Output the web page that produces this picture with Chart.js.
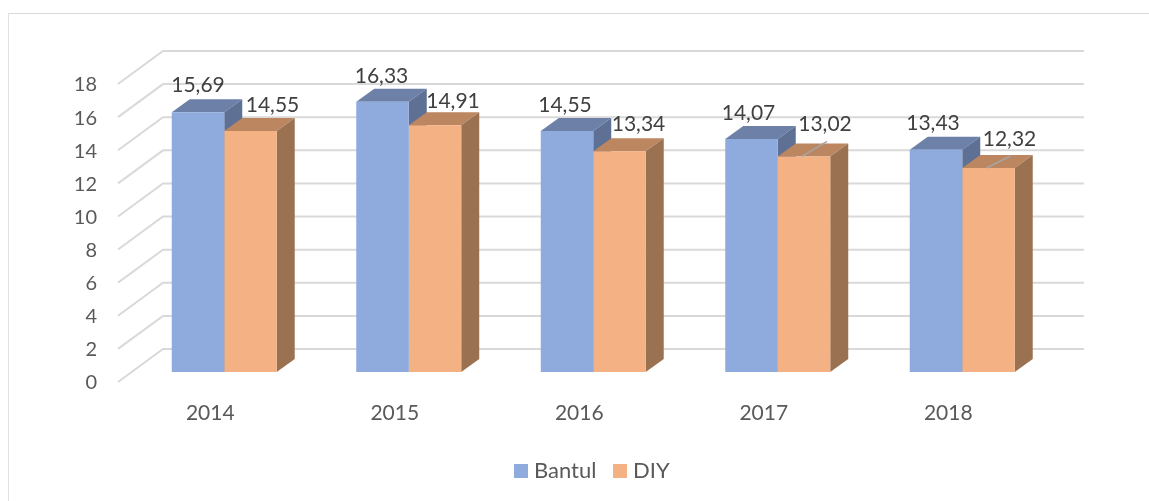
<!DOCTYPE html>
<html>
<head>
<meta charset="utf-8">
<style>
  html, body { margin: 0; background: #fff; overflow: hidden; }
  #frame { position: absolute; left: 8px; top: 13px; right: 0; bottom: 0; border-top: 1px solid #d9d9d9; border-left: 1px solid #e2e2e2; }
  canvas { position: absolute; left: 0; top: 0; }
</style>
<script src="https://cdn.jsdelivr.net/npm/chart.js@4"></script>
</head>
<body>
<div id="frame"></div>
<canvas id="myChart" width="1149" height="501"></canvas>
<script>
var years = ["2014", "2015", "2016", "2017", "2018"];
var bantul = [15.69, 16.33, 14.55, 14.07, 13.43];
var diy = [14.55, 14.91, 13.34, 13.02, 12.32];

// hand placed like in the original, [dx, dy] from the top middle of the bar
var bantulLabelShift = [[0, -27], [-1, -25], [-2, -26], [-3, -26], [-3, -26]];
var diyLabelShift = [[22, -26], [18, -24], [19, -27], [21, -32], [21, -29]];
// only the last two orange bars have a leader line
var diyLeaders = [null, null, null, [23, -15], [22, -12]];

var gridColor = "#d9d9d9";
var depthX = 18;
var depthY = -13;

function face(ctx, points, color) {
  ctx.fillStyle = color;
  ctx.beginPath();
  ctx.moveTo(points[0][0], points[0][1]);
  for (var i = 1; i < points.length; i++) {
    ctx.lineTo(points[i][0], points[i][1]);
  }
  ctx.closePath();
  ctx.fill();
}

var walls = {
  id: "walls",
  beforeDatasetsDraw: function (chart) {
    var ctx = chart.ctx;
    var y = chart.scales.y;
    ctx.save();
    ctx.strokeStyle = gridColor;
    ctx.lineWidth = 2;
    y.ticks.forEach(function (t) {
      var py = y.getPixelForValue(t.value);
      ctx.beginPath();
      ctx.moveTo(118, py + 10);
      ctx.lineTo(163, py - 23);
      ctx.lineTo(1084, py - 23);
      ctx.stroke();
    });

    var tops = ["#6d80a8", "#bb8660"];
    var sides = ["#5e7093", "#9b7251"];
    chart.data.datasets.forEach(function (ds, d) {
      chart.getDatasetMeta(d).data.forEach(function (bar) {
        var left = bar.x - bar.width / 2;
        var right = bar.x + bar.width / 2;
        face(ctx, [[left, bar.y], [left + depthX, bar.y + depthY], [right + depthX, bar.y + depthY], [right, bar.y]], tops[d]);
        face(ctx, [[right, bar.y], [right + depthX, bar.y + depthY], [right + depthX, bar.base + depthY], [right, bar.base]], sides[d]);
      });
    });
    ctx.restore();
  },
  afterDatasetsDraw: function (chart) {
    var ctx = chart.ctx;
    var shifts = [bantulLabelShift, diyLabelShift];
    ctx.save();
    // leader lines first so the text stays on top
    ctx.strokeStyle = "#a6a6a6";
    ctx.lineWidth = 1.5;
    chart.getDatasetMeta(1).data.forEach(function (bar, i) {
      if (!diyLeaders[i]) return;
      ctx.beginPath();
      ctx.moveTo(bar.x - 2, bar.y);
      ctx.lineTo(bar.x + diyLeaders[i][0], bar.y + diyLeaders[i][1]);
      ctx.stroke();
    });
    ctx.fillStyle = "#404040";
    ctx.font = "21px Lato";
    ctx.textAlign = "center";
    ctx.textBaseline = "middle";
    chart.data.datasets.forEach(function (ds, d) {
      chart.getDatasetMeta(d).data.forEach(function (bar, i) {
        var text = ds.data[i].toFixed(2).replace(".", ",");
        ctx.fillText(text, bar.x + shifts[d][i][0], bar.y + shifts[d][i][1]);
      });
    });

    // legend, the built in one keeps too wide a gap after the box
    var legendX = [514, 613];
    ctx.font = "22px Lato";
    ctx.textAlign = "left";
    chart.data.datasets.forEach(function (ds, d) {
      ctx.fillStyle = ds.backgroundColor;
      ctx.fillRect(legendX[d], 464, 14, 14);
      ctx.fillStyle = "#595959";
      ctx.fillText(ds.label, legendX[d] + 20, 471);
    });
    ctx.restore();
  },
};

new Chart(document.getElementById("myChart"), {
  type: "bar",
  data: {
    labels: years,
    datasets: [
      { label: "Bantul", data: bantul, backgroundColor: "#8faadc", borderWidth: 0 },
      { label: "DIY", data: diy, backgroundColor: "#f4b183", borderWidth: 0 },
    ],
  },
  options: {
    responsive: false,
    animation: false,
    layout: { padding: { left: 0, right: 94.5, top: 74, bottom: 57 } },
    datasets: { bar: { barPercentage: 1, categoryPercentage: 0.569 } },
    plugins: {
      tooltip: { enabled: false },
      legend: { display: false },
    },
    scales: {
      x: {
        border: { display: false },
        grid: { display: false, drawTicks: false },
        ticks: { color: "#595959", font: { family: "Lato", size: 21 }, labelOffset: -14, padding: 29, maxRotation: 0 },
        afterFit: function (scale) { scale.height = 72; },
      },
      y: {
        min: 0,
        max: 18,
        border: { display: false },
        grid: { display: false, drawTicks: false },
        ticks: { stepSize: 2, color: "#595959", font: { family: "Lato", size: 20 }, labelOffset: 11, padding: 35 },
        afterFit: function (scale) { scale.width = 132; },
      },
    },
  },
  plugins: [walls],
});
</script>
</body>
</html>
